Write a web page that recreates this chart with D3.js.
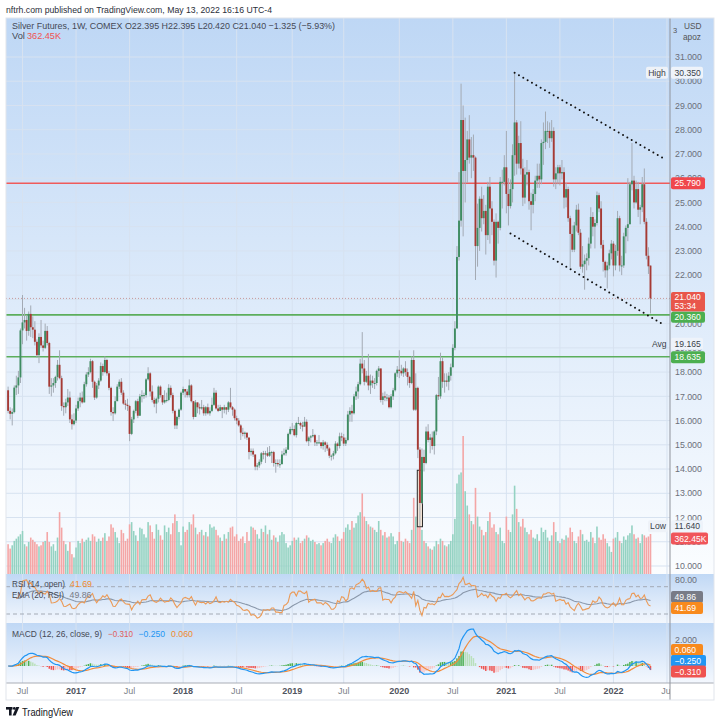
<!DOCTYPE html>
<html><head><meta charset="utf-8">
<script src="https://cdnjs.cloudflare.com/ajax/libs/d3/7.8.5/d3.min.js"></script>
<style>
html,body{margin:0;padding:0;background:#fff;}
svg{display:block;font-family:"Liberation Sans",Arial,Helvetica,sans-serif;}
</style></head><body>
<svg id="chart" width="720" height="723"></svg>
<script>
// ================= DATA (weekly bars, Silver Futures 1W COMEX) =================
const startWeek = "2016-05-16";
const firstOpen = 17.25;
const lastOpen = 22.395;
const closes = [16.40,16.28,16.35,17.36,17.45,17.78,19.72,20.05,20.15,19.70,
20.40,19.85,19.75,19.25,18.70,19.45,19.10,19.00,19.70,19.20,
17.40,17.45,17.55,17.80,18.30,17.75,16.60,16.55,16.75,16.95,
16.05,15.85,16.00,16.50,16.80,16.95,16.75,17.50,17.90,18.00,
18.45,17.60,16.95,17.45,17.65,18.25,18.00,18.50,17.95,17.35,
16.35,16.30,16.80,17.40,17.60,17.15,16.70,16.65,16.60,15.45,
16.05,16.40,16.80,16.20,17.00,17.05,17.05,17.70,17.95,17.20,
16.85,16.70,16.90,17.40,17.05,16.75,16.85,16.85,17.35,17.05,
16.40,15.80,16.15,16.45,17.15,17.30,17.20,17.05,17.45,16.80,
16.15,16.75,16.55,16.50,16.55,16.30,16.55,16.30,16.40,16.65,
17.15,16.50,16.40,16.55,16.45,16.55,16.45,16.75,16.55,16.45,
16.10,16.00,15.80,15.50,15.45,15.50,15.30,14.70,14.75,14.60,
14.10,14.15,14.30,14.65,14.60,14.65,14.55,14.70,14.70,14.25,
14.25,14.20,14.20,14.60,14.65,14.80,15.45,15.65,15.65,15.40,
15.90,15.90,15.80,15.75,15.95,15.15,15.30,15.35,15.40,15.10,
15.10,15.10,14.95,15.10,15.00,14.85,14.55,14.55,14.65,15.05,
14.95,15.35,15.30,15.05,15.20,16.25,16.40,16.30,17.00,17.20,
17.50,18.35,18.15,17.60,17.85,17.45,17.65,17.55,17.55,18.05,
18.15,16.85,17.00,16.95,16.95,16.55,17.00,17.25,17.95,18.10,
18.05,17.95,18.15,18.00,17.80,17.55,18.50,16.45,17.35,14.80,
12.60,14.50,14.25,15.55,15.20,15.30,14.95,15.55,17.05,17.00,
18.45,17.60,17.65,17.60,17.85,18.20,19.00,19.80,22.75,24.25,
28.40,26.30,26.75,27.60,26.85,26.95,26.85,23.20,23.95,25.15,
24.35,24.65,23.65,25.65,24.75,24.20,22.60,24.20,23.95,25.85,
25.85,26.45,25.35,24.85,25.55,26.95,28.30,26.60,27.45,26.40,
25.20,26.15,26.25,25.05,24.90,25.35,25.90,26.10,25.95,27.45,
27.50,27.95,27.95,27.65,27.95,25.95,26.20,26.45,26.20,26.25,
25.20,25.55,24.35,23.70,23.05,24.05,24.70,23.75,22.35,22.45,
22.60,22.70,23.30,24.40,24.00,24.15,25.30,24.75,23.25,22.55,
22.20,22.40,22.90,23.30,22.40,23.00,24.35,22.40,22.40,23.60,
23.95,24.10,25.75,25.90,25.00,25.55,24.70,24.80,25.75,24.20,
22.80,22.365,21.04];
const highs = [17.40,16.55,16.50,17.45,17.85,18.05,19.80,21.18,20.65,20.35,
20.50,20.75,20.30,20.10,19.35,19.60,20.15,19.30,20.00,19.90,
19.25,17.75,17.75,17.85,18.50,18.90,17.85,16.75,16.90,17.30,
17.20,16.25,16.30,16.65,16.95,17.15,17.20,17.60,18.00,18.20,
18.55,18.50,17.65,17.55,17.75,18.40,18.35,18.65,18.55,18.05,
17.40,16.55,17.00,17.50,17.70,17.75,17.25,16.85,16.90,16.65,
16.15,16.45,16.85,16.90,17.10,17.25,17.15,17.75,18.20,18.00,
17.45,16.95,16.95,17.45,17.45,17.05,17.25,17.15,17.50,17.45,
17.15,16.45,16.20,16.50,17.20,17.40,17.30,17.30,17.70,17.50,
16.80,16.85,16.75,16.70,16.85,16.65,16.60,16.70,16.55,16.95,
17.35,17.25,16.65,16.65,16.55,16.65,16.55,16.80,17.35,16.60,
16.50,16.20,16.10,15.85,15.70,15.55,15.50,15.30,14.85,14.85,
14.60,14.25,14.40,14.70,14.75,14.75,14.90,14.95,14.75,14.75,
14.40,14.40,14.40,14.75,14.85,14.90,15.50,15.75,15.90,15.80,
15.95,16.15,15.95,15.95,16.15,16.05,15.35,15.40,15.65,15.45,
15.20,15.40,15.10,15.20,15.15,15.10,14.90,14.60,14.75,15.15,
15.10,15.50,15.50,15.45,15.30,16.40,16.55,16.65,17.10,17.40,
17.60,18.55,19.65,18.50,18.05,18.75,17.90,17.85,17.75,18.10,
18.25,18.15,17.15,17.20,17.10,17.05,17.10,17.35,18.00,18.25,
18.90,18.30,18.20,18.45,18.15,17.85,18.65,18.90,17.95,17.40,
14.90,14.85,14.80,15.75,15.85,15.45,15.55,15.60,17.10,17.80,
18.80,18.60,17.95,17.95,18.00,18.35,19.15,20.10,23.20,26.25,
29.90,29.00,28.50,27.95,28.60,27.70,27.80,26.90,24.95,25.25,
25.65,25.30,24.90,25.85,26.05,25.05,24.30,24.55,24.25,26.05,
26.35,26.95,27.95,26.00,25.95,27.40,30.35,28.40,27.75,28.35,
26.80,26.45,26.75,26.35,25.40,25.55,26.10,26.60,26.60,27.60,
28.30,28.75,28.35,28.30,28.40,28.10,26.45,26.55,26.55,26.75,
26.45,25.80,25.65,24.45,24.05,24.20,24.90,24.95,23.90,23.20,
22.85,22.90,23.55,24.80,24.60,24.30,25.45,25.40,25.05,23.45,
22.60,22.55,23.05,23.45,23.40,23.25,24.65,24.45,22.80,23.75,
24.05,26.00,25.85,27.45,26.10,25.90,25.85,24.90,26.05,26.40,
24.35,23.15,22.395];
const lows = [16.30,16.05,15.80,16.30,17.05,17.10,17.55,19.15,19.80,19.30,
19.50,19.45,19.40,19.10,18.60,18.37,19.00,18.85,18.95,19.10,
17.10,17.00,17.15,17.35,17.65,17.70,16.40,16.20,16.30,16.60,
15.90,15.63,15.80,15.90,16.40,16.55,16.70,16.75,17.40,17.80,
17.95,17.35,16.85,16.90,17.30,17.60,17.85,17.95,17.85,17.25,
16.20,15.98,16.25,16.80,17.30,17.05,16.65,16.45,16.40,15.15,
15.40,15.90,16.30,16.10,16.20,16.75,16.90,16.95,17.65,17.00,
16.75,16.55,16.30,16.75,16.95,16.65,16.70,16.75,16.80,16.95,
16.30,15.65,15.65,16.05,16.40,17.05,16.95,16.95,16.95,16.75,
16.05,16.15,16.30,16.25,16.45,16.20,16.20,16.25,16.20,16.35,
16.60,16.45,16.35,16.40,16.10,16.30,16.25,16.35,16.50,16.20,
16.00,15.85,15.75,15.20,15.35,15.25,15.20,14.40,14.55,14.50,
13.95,13.95,14.05,14.20,14.40,14.25,14.50,14.50,14.25,14.10,
13.85,14.10,14.05,14.20,14.55,14.55,14.80,15.40,15.55,15.35,
15.30,15.85,15.65,15.55,15.75,15.10,14.95,15.10,15.30,14.95,
14.95,15.05,14.85,14.80,14.70,14.75,14.45,14.35,14.40,14.60,
14.75,14.85,15.15,14.95,14.95,15.15,15.95,15.95,16.25,16.85,
16.90,17.45,17.95,17.45,17.55,17.25,17.10,17.35,17.30,17.45,
17.80,16.75,16.65,16.80,16.80,16.50,16.50,16.85,17.20,17.80,
17.75,17.85,17.80,17.85,17.45,17.35,17.50,16.40,16.40,14.45,
11.64,12.55,13.90,14.20,15.10,14.65,14.80,14.60,15.40,16.85,
16.90,17.35,17.15,17.40,17.25,17.65,18.20,18.90,19.80,22.60,
24.00,23.60,25.00,25.80,26.60,26.00,26.30,21.80,22.35,23.00,
23.80,24.10,22.85,23.45,23.30,23.65,22.40,21.90,23.30,23.85,
24.75,25.70,24.55,24.05,24.75,25.00,26.10,26.15,26.40,26.15,
24.85,24.95,25.70,24.70,23.85,24.55,25.05,25.60,25.60,25.75,
26.55,27.20,27.45,27.25,27.50,25.65,25.55,25.75,25.70,25.95,
24.75,24.80,24.20,22.30,22.95,22.95,23.80,23.65,22.25,22.10,
21.40,22.20,22.40,23.10,23.60,23.10,24.05,24.60,23.10,22.15,
21.90,21.45,22.25,22.65,21.95,22.20,22.80,22.15,22.00,22.30,
22.90,23.40,24.10,25.50,24.75,24.95,24.40,24.10,24.60,24.10,
22.65,22.05,20.42];
const volumesK = [270,230,260,300,320,340,360,390,270,250,
290,330,310,290,270,250,260,290,300,380,
290,250,270,210,330,560,420,300,270,210,
290,180,150,240,300,280,320,290,310,330,
300,360,340,290,320,300,330,370,300,340,
450,420,380,330,280,400,370,300,320,450,
470,390,350,300,420,410,360,330,470,440,
380,320,450,400,350,310,440,380,420,360,
460,540,480,380,260,430,380,400,470,450,
540,420,360,380,400,350,380,340,450,420,
430,400,350,330,300,360,320,380,420,430,
340,360,300,320,340,280,380,300,430,420,
400,360,320,410,380,440,360,400,310,350,
330,290,350,380,360,280,240,260,300,330,
310,330,280,300,320,350,330,300,310,290,
270,280,260,280,300,320,290,280,330,360,
340,300,320,380,420,450,400,480,420,460,
530,560,730,520,480,450,430,420,400,380,
480,400,350,380,330,340,370,340,270,300,
380,300,290,320,300,280,400,690,520,600,
560,400,300,280,250,230,220,250,300,270,
320,300,260,250,270,300,360,500,820,900,
920,1250,750,620,540,480,450,780,520,430,
400,350,380,480,560,420,450,380,360,420,
300,280,520,400,380,540,800,590,470,430,
500,420,380,360,400,330,320,360,300,420,
380,400,330,300,350,470,380,300,280,320,
310,350,330,420,380,300,280,340,400,360,
300,310,290,380,330,280,430,330,310,360,
320,280,250,200,320,330,380,300,280,340,
310,350,370,440,360,320,330,280,360,350,
330,340,362.45];
const xTickDates = ["2016-07-04","2017-01-02","2017-07-03","2018-01-01","2018-07-02","2019-01-07","2019-07-01","2020-01-06","2020-07-06","2021-01-04","2021-07-05","2022-01-03","2022-07-04"];
const xTickLabels = ["Jul","2017","Jul","2018","Jul","2019","Jul","2020","Jul","2021","Jul","2022","Jul"];
const priceTicks = [10,11,12,13,14,15,16,17,18,19,20,21,22,23,24,25,26,27,28,29,30,31];
const hiddenPriceTicks = [21]; // fully covered by the last-price tag in the reference
const levelRed = [25.79];
const levelGreen = [20.36, 18.635];
const lastPrice = 21.04;
const trendUpper = [["2021-02-01",30.35],["2022-06-27",26.79]];
const trendLower = [["2021-01-18",23.72],["2022-06-13",20.02]];
const lowBox = {week:"2020-03-16", top:13.95, bottom:11.62};

// ================= SETUP =================
const svg = d3.select("#chart");
const defs = svg.append("defs");
const parse = d3.utcParse("%Y-%m-%d");
const n = closes.length;
const t0 = parse(startWeek);
const dates = d3.range(n).map(i => d3.utcMonday.offset(t0, i));
const bars = dates.map((d,i)=>({d, i,
  o: i===0 ? firstOpen : (i===n-1 ? lastOpen : closes[i-1]),
  h: highs[i], l: lows[i], c: closes[i], v: volumesK[i]}));

const XL=6, XR=670, XA=714;
const MAIN={top:18,bot:574}, RSI={top:574,bot:623}, MACD={top:623,bot:683}, BOT=700;

const x = d3.scaleUtc().domain([dates[0], dates[n-1]]).range([8.1, 650.5]);
const y = d3.scaleLinear().domain([10,31]).range([566,57]);
const yv = d3.scaleLinear().domain([0,1250]).range([574,436]);
const yr = d3.scaleLinear().domain([30,70]).range([614,586.7]);
const ym = d3.scaleLinear().domain([0,2]).range([666,640]);

function grad(id,c1,c2){const g=defs.append("linearGradient").attr("id",id).attr("x1",0).attr("y1",0).attr("x2",0).attr("y2",1);
  g.append("stop").attr("offset","0%").attr("stop-color",c1);g.append("stop").attr("offset","100%").attr("stop-color",c2);}
grad("gMain","#bed7f5","#fbfdff");
grad("gRsi","#c0d8f5","#f3f7fd");
grad("gMacd","#c0d8f5","#f4f8fe");
function clip(id,x0,y0,x1,y1){defs.append("clipPath").attr("id",id).append("rect").attr("x",x0).attr("y",y0).attr("width",x1-x0).attr("height",y1-y0);}
clip("cMain",XL,MAIN.top,XR,MAIN.bot);
clip("cRsi",XL,RSI.top,XR,RSI.bot);
clip("cMacd",XL,MACD.top,XR,MACD.bot);
clip("cXax",0,MACD.bot,XR,BOT);

// backgrounds
svg.append("rect").attr("x",XL).attr("y",MAIN.top).attr("width",XA-XL).attr("height",MAIN.bot-MAIN.top).attr("fill","url(#gMain)");
svg.append("rect").attr("x",XL).attr("y",RSI.top).attr("width",XA-XL).attr("height",RSI.bot-RSI.top).attr("fill","url(#gRsi)");
svg.append("rect").attr("x",XL).attr("y",MACD.top).attr("width",XA-XL).attr("height",MACD.bot-MACD.top).attr("fill","url(#gMacd)");

// grid
const grid = svg.append("g");
priceTicks.forEach(p=>grid.append("line").attr("x1",XL).attr("x2",XR).attr("y1",y(p)).attr("y2",y(p)).attr("stroke","#d7e2f0").attr("stroke-width",1));
const xTicks = xTickDates.map(parse);
xTicks.forEach(t=>{const xx=x(t); if(xx<XR) grid.append("line").attr("x1",xx).attr("x2",xx).attr("y1",MAIN.top).attr("y2",MACD.bot).attr("stroke","#d7e2f0").attr("stroke-width",1);});

// ================= MAIN PANE =================
const gm = svg.append("g").attr("clip-path","url(#cMain)");
gm.selectAll("rect.vol").data(bars).join("rect").attr("class","vol")
  .attr("x",d=>x(d.d)-0.8).attr("width",1.6)
  .attr("y",d=>yv(d.v)).attr("height",d=>yv(0)-yv(d.v))
  .attr("fill",d=>d.c>=d.o?"#94d2c2":"#f4a6a6");
levelRed.forEach(p=>gm.append("line").attr("x1",XL).attr("x2",XR).attr("y1",y(p)).attr("y2",y(p)).attr("stroke","#ef5b5b").attr("stroke-width",1.6));
levelGreen.forEach(p=>gm.append("line").attr("x1",XL).attr("x2",XR).attr("y1",y(p)).attr("y2",y(p)).attr("stroke","#5cae5c").attr("stroke-width",1.6));
gm.append("line").attr("x1",XL).attr("x2",XR).attr("y1",y(lastPrice)).attr("y2",y(lastPrice)).attr("stroke","#c99a9a").attr("stroke-width",1).attr("stroke-dasharray","1,2");
{const xc=x(parse(lowBox.week)); gm.append("rect").attr("x",xc-2.6).attr("width",5.2).attr("y",y(lowBox.top)).attr("height",y(lowBox.bottom)-y(lowBox.top)).attr("fill","#f3e3d4").attr("stroke","#2b2b2b").attr("stroke-width",1);}
gm.selectAll("line.wick").data(bars).join("line").attr("class","wick")
  .attr("x1",d=>x(d.d)).attr("x2",d=>x(d.d))
  .attr("y1",d=>y(Math.max(d.h,d.o,d.c))).attr("y2",d=>y(Math.min(d.l,d.o,d.c)))
  .attr("stroke","#a3aab4").attr("stroke-width",1);
gm.selectAll("rect.body").data(bars).join("rect").attr("class","body")
  .attr("x",d=>x(d.d)-0.95).attr("width",1.9)
  .attr("y",d=>y(Math.max(d.o,d.c))).attr("height",d=>Math.max(1,Math.abs(y(d.o)-y(d.c))))
  .attr("fill",d=>d.c>=d.o?"#3f8c62":"#a63a34");
[trendUpper,trendLower].forEach(tl=>{
  gm.append("line").attr("x1",x(parse(tl[0][0]))).attr("y1",y(tl[0][1])).attr("x2",x(parse(tl[1][0]))).attr("y2",y(tl[1][1]))
    .attr("stroke","#111").attr("stroke-width",2).attr("stroke-linecap","round").attr("stroke-dasharray","0,5");
});

// ================= RSI =================
const opens = bars.map(b=>b.o);
function rsiCalc(src,len){const out=new Array(src.length).fill(null);let ag=0,al=0;
  for(let i=1;i<src.length;i++){const ch=src[i]-src[i-1],g=Math.max(ch,0),l=Math.max(-ch,0);
    if(i<=len){ag+=(g-ag)/i;al+=(l-al)/i;}else{ag=(ag*(len-1)+g)/len;al=(al*(len-1)+l)/len;}
    out[i]=al===0?100:100-100/(1+ag/al);}return out;}
const rsi = rsiCalc(opens,14);
const rsiStart = 4;
const rsiEma = new Array(n).fill(null);
{const k=2/21;let e=null;for(let i=rsiStart;i<n;i++){e=e===null?rsi[i]:e+k*(rsi[i]-e);rsiEma[i]=e;}}
const gr = svg.append("g").attr("clip-path","url(#cRsi)");
[70,30].forEach(v=>gr.append("line").attr("x1",XL).attr("x2",XR).attr("y1",yr(v)).attr("y2",yr(v)).attr("stroke","#a3aab5").attr("stroke-dasharray","4,3").attr("stroke-width",1));
const lineR = d3.line().defined(d=>d.v!==null).x(d=>x(d.d)).y(d=>yr(d.v));
gr.append("path").datum(bars.map((b,i)=>({d:b.d,v:i>=rsiStart?rsiEma[i]:null}))).attr("d",lineR).attr("fill","none").attr("stroke","#8a98ab").attr("stroke-width",1.1);
gr.append("path").datum(bars.map((b,i)=>({d:b.d,v:i>=rsiStart?rsi[i]:null}))).attr("d",lineR).attr("fill","none").attr("stroke","#eb9a57").attr("stroke-width",1.1);

// ================= MACD =================
function ema(src,len){const k=2/(len+1);const out=[];let e=src[0];src.forEach((v,i)=>{e=i===0?v:e+k*(v-e);out.push(e);});return out;}
const e12=ema(closes,12), e26=ema(closes,26);
const macd=e12.map((v,i)=>v-e26[i]);
const signal=ema(macd,9);
const hist=macd.map((v,i)=>v-signal[i]);
const gmc = svg.append("g").attr("clip-path","url(#cMacd)");
gmc.selectAll("rect.h").data(bars).join("rect").attr("class","h")
  .attr("x",d=>x(d.d)-0.75).attr("width",1.5)
  .attr("y",(d,i)=>Math.min(ym(0),ym(hist[i]))).attr("height",(d,i)=>Math.abs(ym(hist[i])-ym(0)))
  .attr("fill",(d,i)=>{const h=hist[i],p=i>0?hist[i-1]:h;return h>=0?(h>=p?"#4caf50":"#b9e0bb"):(h<p?"#ef5350":"#f8c4c4");});
const lineM=d3.line().x(d=>x(d.d)).y(d=>ym(d.v));
gmc.append("path").datum(bars.map((b,i)=>({d:b.d,v:signal[i]}))).attr("d",lineM).attr("fill","none").attr("stroke","#f28c3c").attr("stroke-width",1.2);
gmc.append("path").datum(bars.map((b,i)=>({d:b.d,v:macd[i]}))).attr("d",lineM).attr("fill","none").attr("stroke","#2196f3").attr("stroke-width",1.2);

// ================= FRAME / AXES =================
svg.append("line").attr("x1",XL).attr("x2",XA).attr("y1",MACD.bot).attr("y2",MACD.bot).attr("stroke","#a9adb6");
svg.append("line").attr("x1",XR).attr("x2",XR).attr("y1",MAIN.top).attr("y2",BOT).attr("stroke","#8f939c");
svg.append("rect").attr("x",XL).attr("y",MAIN.top).attr("width",XA-XL).attr("height",BOT-MAIN.top).attr("fill","none").attr("stroke","#e1e5ec");

const ax = svg.append("g").attr("font-size",8.8).attr("fill","#6b6f79");
priceTicks.filter(p=>!hiddenPriceTicks.includes(p)).forEach(p=>ax.append("text").attr("x",675).attr("y",y(p)+3.2).text(d3.format(".3f")(p)));
ax.append("text").attr("x",675).attr("y",yr(80)+3.2).text("80.00");
ax.append("text").attr("x",675).attr("y",ym(2)+3.2).text("2.000");
ax.append("text").attr("x",684).attr("y",29).attr("font-size",8.3).attr("fill","#555").text("USD");
ax.append("text").attr("x",673).attr("y",33).attr("font-size",7.5).attr("fill","#555").text("3");
ax.append("text").attr("x",683).attr("y",39.5).attr("font-size",8.3).attr("fill","#555").text("apoz");

const xa = svg.append("g").attr("clip-path","url(#cXax)");
xTicks.forEach((t,i)=>{const isYr=/^\d{4}$/.test(xTickLabels[i]);
  xa.append("text").attr("x",x(t)).attr("y",693.5).attr("text-anchor","middle").attr("font-size",9)
    .attr("font-weight",isYr?"bold":"normal").attr("fill",isYr?"#50545e":"#7b7f89").text(xTickLabels[i]);});

// tags
const tg = svg.append("g").attr("font-size",8.6);
function tag(yc,txt,bg,fg,w=34,h=12,x0=671){tg.append("rect").attr("x",x0).attr("y",yc-h/2).attr("width",w).attr("height",h).attr("rx",2).attr("fill",bg);
  tg.append("text").attr("x",x0+3.5).attr("y",yc+3.1).attr("fill",fg).text(txt);}
function side(yc,txt,x0,w){tg.append("rect").attr("x",x0).attr("y",yc-6).attr("width",w).attr("height",12).attr("rx",2).attr("fill","#eef2f8");
  tg.append("text").attr("x",x0+w/2).attr("y",yc+3.1).attr("text-anchor","middle").attr("fill","#3b3f48").text(txt);}
side(y(30.35),"High",646,22); tag(y(30.35),"30.350","#eef3fa","#3b3f48",32);
tag(y(25.79),"25.790","#f0474c","#fff");
tg.append("rect").attr("x",671).attr("y",292).attr("width",34).attr("height",19.5).attr("rx",2).attr("fill","#e8574b");
tg.append("text").attr("x",674.5).attr("y",299.6).attr("fill","#fff").text("21.040");
tg.append("text").attr("x",674.5).attr("y",309.4).attr("fill","#fff").text("53:34");
tag(317.2,"20.360","#4caf50","#fff",34,11);
tg.append("text").attr("x",652).attr("y",y(19.165)+3.1).attr("fill","#3b3f48").text("Avg");
tag(y(19.165),"19.165","#eef3fa","#3b3f48",32);
tag(y(18.635)+0.5,"18.635","#4caf50","#fff");
side(y(11.64),"Low",648,20); tag(y(11.64),"11.640","#eef3fa","#3b3f48",32);
tag(538.5,"362.45K","#f0555a","#fff",37);
tag(597,"49.86","#787b86","#fff",32);
tag(608,"41.69","#f88a1d","#fff",32);
tag(650,"0.060","#f88a1d","#fff",32);
tag(661,"\u22120.250","#2196f3","#fff",35);
tag(671.5,"\u22120.310","#ef5350","#fff",35);

// ================= TEXTS =================
const tx = svg.append("g");
tx.append("text").attr("x",6).attr("y",12.5).attr("font-size",9.3).attr("fill","#2a2e39").attr("textLength",266).attr("lengthAdjust","spacingAndGlyphs").text("nftrh.com published on TradingView.com, May 13, 2022 16:16 UTC-4");
tx.append("text").attr("x",12).attr("y",28.7).attr("font-size",9.3).attr("fill","#454955").attr("textLength",323).attr("lengthAdjust","spacingAndGlyphs").text("Silver Futures, 1W, COMEX  O22.395  H22.395  L20.420  C21.040  \u22121.325 (\u22125.93%)");
tx.append("text").attr("x",12).attr("y",39.3).attr("font-size",9.3).attr("fill","#454955").text("Vol");
tx.append("text").attr("x",27).attr("y",39.3).attr("font-size",9.3).attr("fill","#ef5350").attr("textLength",34).attr("lengthAdjust","spacingAndGlyphs").text("362.45K");
tx.append("text").attr("x",12).attr("y",587.3).attr("font-size",9).attr("fill","#454955").attr("textLength",53).attr("lengthAdjust","spacingAndGlyphs").text("RSI (14, open)");
tx.append("text").attr("x",70).attr("y",587.3).attr("font-size",9).attr("fill","#f08a2c").attr("textLength",22).attr("lengthAdjust","spacingAndGlyphs").text("41.69");
tx.append("text").attr("x",12).attr("y",597.8).attr("font-size",9).attr("fill","#454955").attr("textLength",52).attr("lengthAdjust","spacingAndGlyphs").text("EMA (20, RSI)");
tx.append("text").attr("x",69.5).attr("y",597.8).attr("font-size",9).attr("fill","#787b86").attr("textLength",22).attr("lengthAdjust","spacingAndGlyphs").text("49.86");
tx.append("text").attr("x",12).attr("y",637).attr("font-size",9).attr("fill","#454955").attr("textLength",90).attr("lengthAdjust","spacingAndGlyphs").text("MACD (12, 26, close, 9)");
tx.append("text").attr("x",108).attr("y",637).attr("font-size",9).attr("fill","#e0605a").attr("textLength",25).attr("lengthAdjust","spacingAndGlyphs").text("\u22120.310");
tx.append("text").attr("x",138.5).attr("y",637).attr("font-size",9).attr("fill","#2196f3").attr("textLength",26.5).attr("lengthAdjust","spacingAndGlyphs").text("\u22120.250");
tx.append("text").attr("x",171).attr("y",637).attr("font-size",9).attr("fill","#f08a2c").attr("textLength",22).attr("lengthAdjust","spacingAndGlyphs").text("0.060");
const lg = svg.append("g").attr("fill","#131722");
lg.append("rect").attr("x",6).attr("y",707).attr("width",6.5).attr("height",2.6);
lg.append("rect").attr("x",9).attr("y",707).attr("width",2.6).attr("height",8.5);
lg.append("circle").attr("cx",14.3).attr("cy",708.4).attr("r",1.4);
lg.append("polygon").attr("points","16.2,707 19.3,707 15.6,715.5 12.6,715.5");
tx.append("text").attr("x",22).attr("y",715.5).attr("font-size",11).attr("fill","#131722").attr("textLength",51).attr("lengthAdjust","spacingAndGlyphs").text("TradingView");
</script>
</body></html>
